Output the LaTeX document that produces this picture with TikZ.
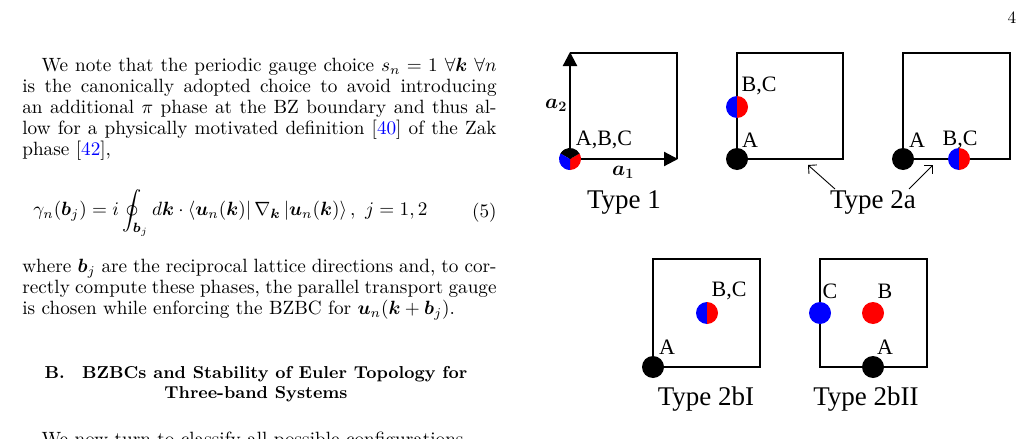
\documentclass[tikz,border=0pt]{standalone}
\usepackage{amsmath,amssymb,bm}
\usepackage{fontspec}
\newfontfamily\tnr{Liberation Serif}
\usetikzlibrary{arrows.meta}
\begin{document}
\begin{tikzpicture}[x=1pt,y=-1pt,
  bz/.style={line width=2.2pt},
  lab/.style={font=\tnr\fontsize{22}{22}\selectfont,inner sep=0pt},
  ttl/.style={font=\tnr\fontsize{27}{27}\selectfont,inner sep=0pt},
  body/.style={font=\fontsize{10}{10.9}\selectfont,inner sep=0pt,anchor=north west,text width=247pt,align=justify,scale=1.92,transform shape},
  sc/.style={inner sep=0pt,scale=1.92,transform shape,font=\fontsize{10}{12}\selectfont}]
\useasboundingbox (0,0) rectangle (1029,439);
\clip (0,0) rectangle (1029,439);
% page number
\node[sc,scale=0.9] (pg) at (1012,18) {4};
% left column
\node[body] (p1) at (22,58) {\hspace*{10pt}We note that the periodic gauge choice $s_n=1\ \forall\bm{k}\ \forall n$\linebreak
is the canonically adopted choice to avoid introducing\linebreak
an additional $\pi$ phase at the BZ boundary and thus al-\linebreak
low for a physically motivated definition [\textcolor{blue}{40}] of the Zak\linebreak
phase [\textcolor{blue}{42}],};
\node[sc,anchor=west] (eq) at (33,213) {$\gamma_n(\bm{b}_j)=i\displaystyle\oint_{\bm{b}_j} d\bm{k}\cdot\langle\bm{u}_n(\bm{k})|\,\nabla_{\bm{k}}\,|\bm{u}_n(\bm{k})\rangle\,,\ j=1,2$};
\node[sc,anchor=east] (eqn) at (497,213) {(5)};
\node[body] (p2) at (22,259) {where $\bm{b}_j$ are the reciprocal lattice directions and, to cor-\linebreak
rectly compute these phases, the parallel transport gauge\linebreak
is chosen while enforcing the BZBC for $\bm{u}_n(\bm{k}+\bm{b}_j)$.};
\node[sc,font=\bfseries\fontsize{9}{10.5}\selectfont,align=center] (hd) at (256,384) {B.\quad BZBCs and Stability of Euler Topology for\\Three-band Systems};
\node[body] (p3) at (22,432) {\hspace*{10pt}We now turn to classify all possible configurations};
% ---- Type 1
\coordinate (o1) at (570,159);
\draw[bz] (570,53) -- (677,53) -- (677,159);
\draw[bz,-{Triangle[length=14pt,width=14pt]}] (o1) -- (570,52) coordinate (t2);
\draw[bz,-{Triangle[length=14pt,width=14pt]}] (o1) -- (678,159) coordinate (t1);
\fill[red] (o1) -- ++(90:11) arc (90:-30:11) -- cycle;
\fill[black] (o1) -- ++(-30:11) arc (-30:-150:11) -- cycle;
\fill[blue] (o1) -- ++(210:11) arc (210:90:11) -- cycle;
\node[lab] (l1) at (604,140) {A,B,C};
\node[inner sep=0pt,font=\fontsize{20}{20}\selectfont] (a2) at (556,105) {$\bm{a_2}$};
\node[inner sep=0pt,font=\fontsize{20}{20}\selectfont] (a1) at (623,172) {$\bm{a_1}$};
\node[ttl] (t1l) at (624,202) {Type 1};
% ---- Type 2a left
\draw[bz] (737,159) -- (737,53) -- (843,53) -- (843,159) -- cycle;
\fill[black] (737,159) circle (11);
\fill[blue] (737,107) ++(90:11) arc (90:270:11) -- cycle;
\fill[red] (737,107) ++(-90:11) arc (-90:90:11) -- cycle;
\node[lab] (s2a) at (750,140) {A};
\node[lab] (s2bc) at (759,86) {B,C};
% ---- Type 2a right
\draw[bz] (903,159) -- (903,53) -- (1010,53) -- (1010,159) -- cycle;
\fill[black] (903,159) circle (11);
\fill[blue] (959,159) ++(90:11) arc (90:270:11) -- cycle;
\fill[red] (959,159) ++(-90:11) arc (-90:90:11) -- cycle;
\node[lab] (s3a) at (917,140) {A};
\node[lab] (s3bc) at (960,140) {B,C};
\node[ttl] (t2a) at (873,202) {Type 2a};
\coordinate (e1) at (808,165);
\coordinate (e2) at (933,165);
\draw[-{Straight Barb[length=6pt]},line width=0.9pt] (835,189) -- (e1);
\draw[-{Straight Barb[length=6pt]},line width=0.9pt] (909,189) -- (e2);
% ---- Type 2bI
\draw[bz] (653,367) -- (653,259) -- (760,259) -- (760,367) -- cycle;
\fill[black] (653,367) circle (11);
\fill[blue] (707,313) ++(90:11) arc (90:270:11) -- cycle;
\fill[red] (707,313) ++(-90:11) arc (-90:90:11) -- cycle;
\node[lab] (s4a) at (667,347) {A};
\node[lab] (s4bc) at (729,291) {B,C};
\node[ttl] (t2b1) at (706,399) {Type 2bI};
% ---- Type 2bII
\draw[bz] (820,367) -- (820,259) -- (927,259) -- (927,367) -- cycle;
\fill[blue] (820,313) circle (11);
\fill[red] (873,313) circle (11);
\fill[black] (873,367) circle (11);
\node[lab] (s5c) at (830,291) {C};
\node[lab] (s5b) at (885,291) {B};
\node[lab] (s5a) at (885,347) {A};
\node[ttl] (t2b2) at (866,399) {Type 2bII};
\end{tikzpicture}
\end{document}
